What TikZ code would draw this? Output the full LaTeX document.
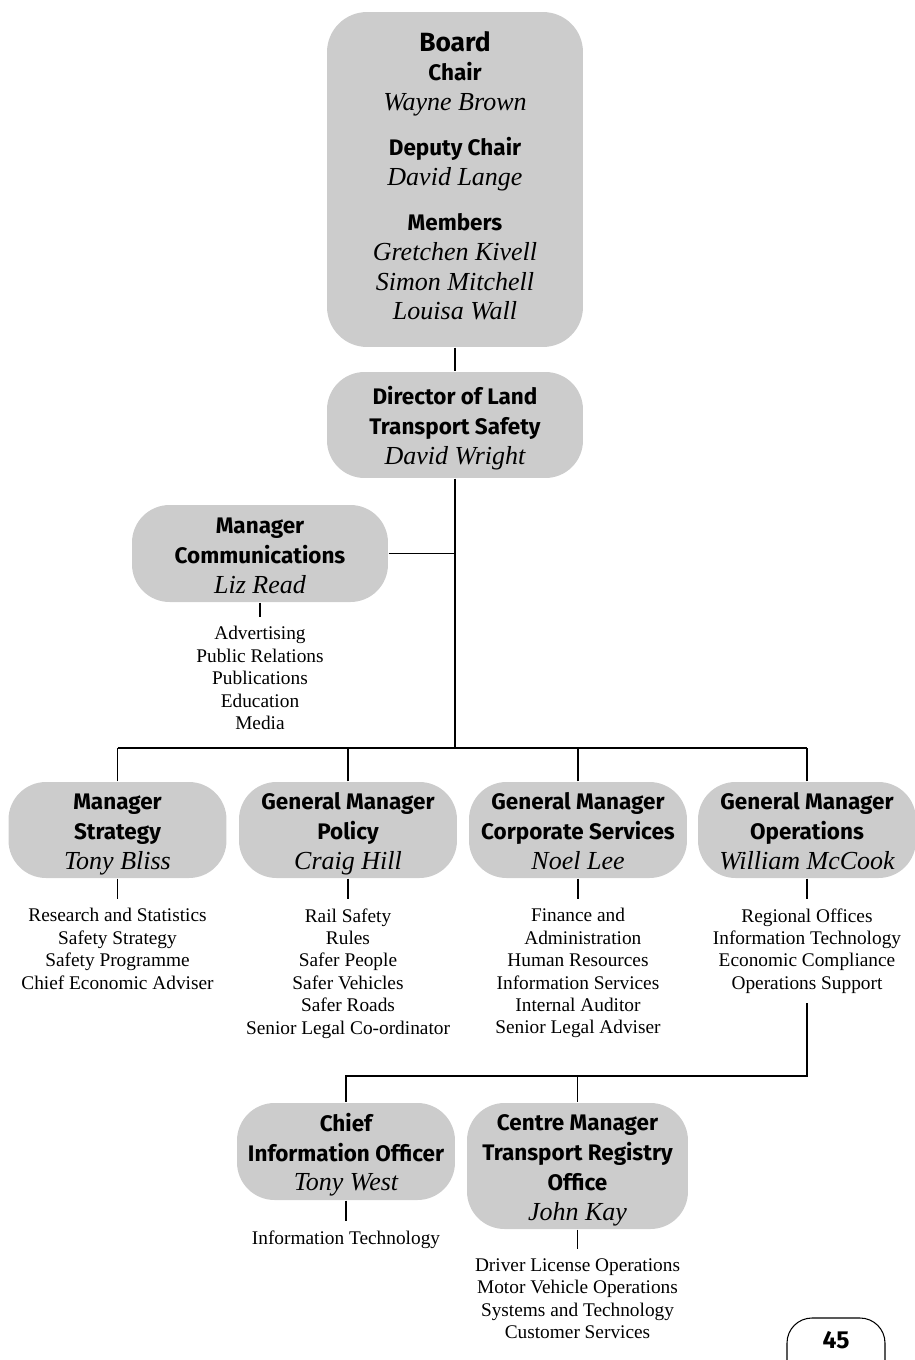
\documentclass[tikz,border=0pt]{standalone}
\usepackage{fontspec}
\setmainfont{Liberation Serif}
\newfontfamily\headfont{Fira Sans}
\usetikzlibrary{positioning}

\newcommand{\linestrut}{\rule[-3pt]{0pt}{17pt}}
\newcommand{\hd}[1]{{\headfont\bfseries #1\linestrut}}
\newcommand{\nm}[1]{{\fontsize{14.8}{17}\selectfont\itshape #1\linestrut}}

\begin{document}
\begin{tikzpicture}[
        x=0.02cm, y=-0.02cm,
        line width=0.8pt,
        post/.style={rounded corners=0.75cm, fill=black!20, align=center, inner sep=0pt,
            font=\fontsize{12.8}{17}\selectfont},
        unit/.style={post, minimum width=4.36cm, minimum height=1.92cm},
        duties/.style={align=center, inner sep=0pt, outer sep=5.6pt,
            font=\fontsize{11}{12.75}\selectfont}
    ]
        \useasboundingbox (0,0) rectangle (915,1360);

        % Board and director
        \node [post, rounded corners=0.8cm, minimum width=5.12cm, minimum height=6.7cm,
               font=\fontsize{12.8}{17}\selectfont\let\linestrut\strut] (board) at (455,179.5)
            {\hd{\fontsize{15}{17}\selectfont Board}\\ \hd{Chair}\\ \nm{Wayne Brown}\\[8.5pt]
             \hd{Deputy Chair}\\ \nm{David Lange}\\[8.5pt]
             \hd{Members}\\ \nm{Gretchen Kivell}\\ \nm{Simon Mitchell}\\ \nm{Louisa Wall}};
        \node [post, minimum width=5.12cm, minimum height=2.12cm] (dir) at (455,425)
            {\hd{Director of Land}\\ \hd{Transport Safety}\\ \nm{David Wright}};
        \node [post, minimum width=5.12cm, minimum height=1.94cm] (comm) at (260,553.5)
            {\hd{Manager}\\ \hd{Communications}\\ \nm{Liz Read}};

        % Managers
        \node [unit] (strat) at (117.5,830) {\hd{Manager}\\ \hd{Strategy}\\ \nm{Tony Bliss}};
        \node [unit] (pol) at (348,830) {\hd{General Manager}\\ \hd{Policy}\\ \nm{Craig Hill}};
        \node [unit] (corp) at (578,830) {\hd{General Manager}\\ \hd{Corporate Services}\\ \nm{Noel Lee}};
        \node [unit] (ops) at (807,830) {\hd{General Manager}\\ \hd{Operations}\\ \nm{William McCook}};

        \node [unit, minimum height=1.94cm] (cio) at (346,1151.5)
            {\hd{Chief}\\ \hd{Information Officer}\\ \nm{Tony West}};
        \node [unit, minimum width=4.42cm, minimum height=2.52cm] (tro) at (577.5,1166)
            {\hd{Centre Manager}\\ \hd{Transport Registry}\\ \hd{Office}\\ \nm{John Kay}};

        % Functions
        \node [duties, below=0.28cm of comm] (comm-list)
            {Advertising\\ Public Relations\\ Publications\\ Education\\ Media};
        \node [duties, below=0.4cm of strat] (strat-list)
            {Research and Statistics\\ Safety Strategy\\ Safety Programme\\ Chief Economic Adviser};
        \node [duties, below=0.4cm of pol] (pol-list)
            {Rail Safety\\ Rules\\ Safer People\\ Safer Vehicles\\ Safer Roads\\ Senior Legal Co-ordinator};
        \node [duties, below=0.4cm of corp] (corp-list)
            {Finance and\\ \ \ Administration\\ Human Resources\\ Information Services\\ Internal Auditor\\ Senior Legal Adviser};
        \node [duties, below=0.4cm of ops] (ops-list)
            {Regional Offices\\ Information Technology\\ Economic Compliance\\ Operations Support};
        \node [duties, below=0.4cm of cio] (cio-list) {Information Technology};
        \node [duties, below=0.38cm of tro] (tro-list)
            {Driver License Operations\\ Motor Vehicle Operations\\ Systems and Technology\\ Customer Services};

        % Lines
        \coordinate (bus) at (455,748);
        \coordinate (split) at (577.5,1076);
        \draw (board) -- (dir);
        \draw (dir) -- (bus);
        \draw (comm) -- (comm -| bus);
        \draw (strat.north |- bus) -- (ops.north |- bus);
        \foreach \n in {strat,pol,corp,ops}
            \draw (\n.north) -- (\n.north |- bus);
        \foreach \n in {comm,strat,pol,corp,ops,cio,tro}
            \draw (\n.south) -- (\n-list.north);
        \draw (ops-list.south) |- (cio.north |- split) -- (cio.north);
        \draw (split) -- (tro.north);

        % Page number
        \begin{scope}
            \clip (0,0) rectangle (915,1360);
            \draw [rounded corners=0.5cm, line width=0.6pt] (787,1318) rectangle (885,1400);
        \end{scope}
        \node [font=\headfont\bfseries\fontsize{14}{16}\selectfont] (page) at (836,1340) {45};
    \end{tikzpicture}
\end{document}
